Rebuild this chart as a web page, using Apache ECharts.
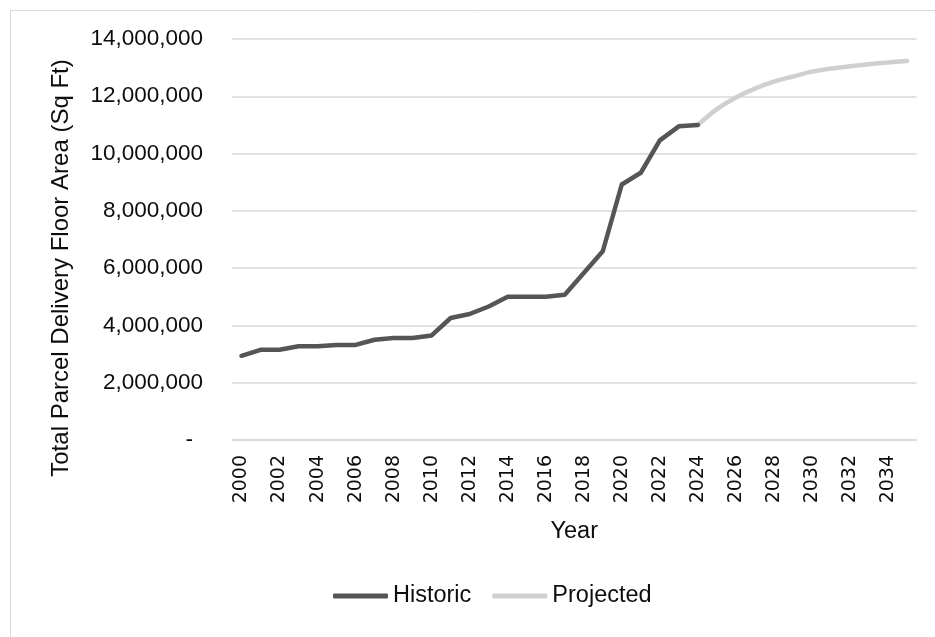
<!DOCTYPE html>
<html>
<head>
<meta charset="utf-8">
<style>
  html, body { margin: 0; padding: 0; background: #ffffff; }
  #chart { width: 935px; height: 637px; }
</style>
<script src="https://cdn.jsdelivr.net/npm/echarts@6/dist/echarts.min.js"></script>
</head>
<body>
<div id="chart"></div>
<script>
// Years on the category axis
const years = ['2000','2001','2002','2003','2004','2005','2006','2007','2008','2009',
  '2010','2011','2012','2013','2014','2015','2016','2017','2018','2019',
  '2020','2021','2022','2023','2024','2025','2026','2027','2028','2029',
  '2030','2031','2032','2033','2034','2035'];

// Recorded floor area, 2000-2024 (sq ft)
const historic = [2940000, 3150000, 3150000, 3270000, 3270000, 3320000, 3320000,
  3500000, 3560000, 3560000, 3650000, 4260000, 4400000, 4660000, 5000000,
  5000000, 5000000, 5070000, 5830000, 6590000, 8920000, 9330000, 10460000,
  10950000, 11000000];

// Forecast floor area, 2024-2035 (sq ft)
const projected = [11000000, 11550000, 11960000, 12270000, 12510000, 12690000,
  12860000, 12970000, 13050000, 13120000, 13180000, 13230000];

// Value-axis ticks
const yMin = 0, yMax = 14000000, yStep = 2000000;

const projectedStart = years.indexOf('2024');
const projectedSeries = new Array(projectedStart).fill(null).concat(projected);

const chart = echarts.init(document.getElementById('chart'), null, { renderer: 'canvas' });

const labelFont = 'Liberation Sans, Arial, sans-serif';
const textColor = '#0d0d0d';

chart.setOption({
  animation: false,
  backgroundColor: '#ffffff',
  graphic: [
    {
      type: 'rect',
      shape: { x: 10.5, y: 10.5, width: 1200, height: 1200 },
      style: { fill: 'none', stroke: '#d9d9d9', lineWidth: 1 },
      silent: true
    },
    {
      type: 'text',
      x: 61,
      y: 268,
      rotation: Math.PI / 2,
      style: {
        text: 'Total Parcel Delivery Floor Area (Sq Ft)',
        font: '24px ' + labelFont,
        fill: textColor,
        align: 'center',
        verticalAlign: 'middle'
      },
      silent: true
    }
  ],
  grid: { left: 232, right: 18.5, top: 39, bottom: 197, containLabel: false },
  legend: {
    left: 333,
    top: 584,
    padding: 0,
    itemWidth: 55,
    itemHeight: 5,
    itemGap: 21,
    icon: 'roundRect',
    textStyle: { fontFamily: labelFont, fontSize: 23.5, color: textColor, padding: [0, 0, 0, 0] },
    data: ['Historic', 'Projected']
  },
  xAxis: {
    type: 'category',
    data: years,
    boundaryGap: true,
    name: 'Year',
    nameLocation: 'middle',
    nameGap: 80,
    nameTextStyle: { fontFamily: labelFont, fontSize: 23.5, color: textColor },
    axisLine: { show: true, lineStyle: { color: '#d9d9d9', width: 1.5 } },
    axisTick: { show: false },
    axisLabel: {
      interval: 1,
      rotate: 90,
      margin: 15,
      fontFamily: 'DejaVu Sans, sans-serif',
      fontSize: 19,
      color: textColor
    },
    splitLine: { show: false }
  },
  yAxis: {
    type: 'value',
    min: yMin,
    max: yMax,
    interval: yStep,
    axisLine: { show: false },
    axisTick: { show: false },
    axisLabel: {
      margin: 29,
      fontFamily: labelFont,
      fontSize: 22.5,
      color: textColor,
      formatter: function (v) {
        if (v === 0) return '{dash|-}';
        return v.toLocaleString('en-US');
      },
      rich: {
        dash: { fontFamily: labelFont, fontSize: 22.5, color: textColor, padding: [0, 10, 0, 0] }
      }
    },
    splitLine: { show: true, lineStyle: { color: '#d9d9d9', width: 1.5 } }
  },
  series: [
    {
      name: 'Historic',
      type: 'line',
      data: historic,
      showSymbol: false,
      symbol: 'none',
      color: '#555555',
      lineStyle: { color: '#555555', width: 4.5, cap: 'round', join: 'round' },
      z: 3
    },
    {
      name: 'Projected',
      type: 'line',
      data: projectedSeries,
      showSymbol: false,
      symbol: 'none',
      smooth: 0.3,
      color: '#cfcfcf',
      lineStyle: { color: '#cfcfcf', width: 4.5, cap: 'round', join: 'round' },
      z: 2
    }
  ]
});
</script>
</body>
</html>
